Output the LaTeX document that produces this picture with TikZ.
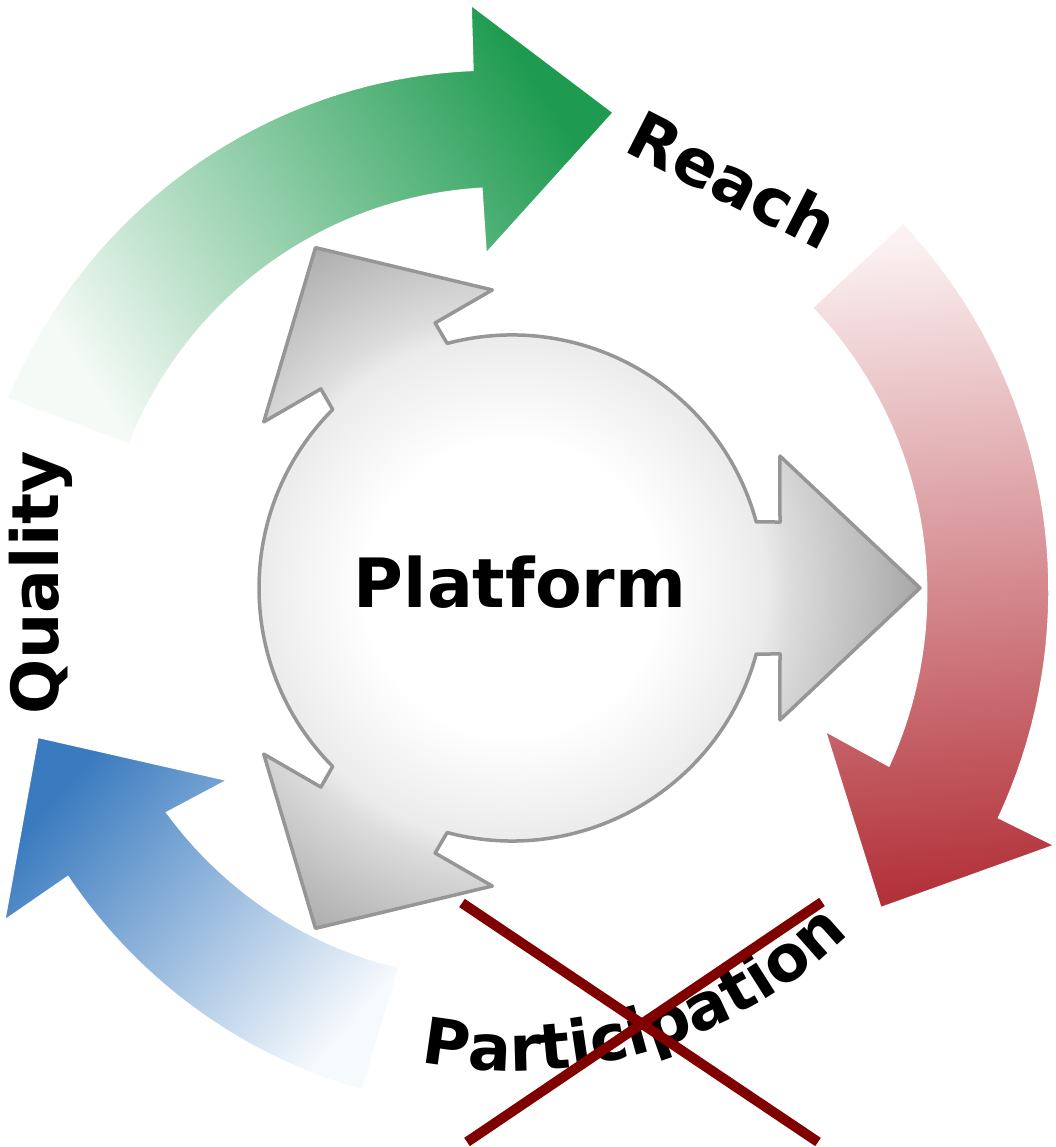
\documentclass[tikz,border=0pt]{standalone}
\usepackage{fontspec}
\setmainfont{DejaVu Sans}
\usetikzlibrary{decorations.text}
\definecolor{grnD}{HTML}{1E9B50}
\definecolor{grnM}{HTML}{7CC69B}
\definecolor{grnL}{HTML}{F4FAF6}
\definecolor{redD}{HTML}{B3323A}
\definecolor{redM}{HTML}{D98F96}
\definecolor{redL}{HTML}{FBF1F2}
\definecolor{bluD}{HTML}{3A7BBF}
\definecolor{bluM}{HTML}{98BEE2}
\definecolor{bluL}{HTML}{F7FAFD}
\definecolor{pltA}{HTML}{EBEBEB}
\definecolor{pltB}{HTML}{DCDCDC}
\definecolor{pltD}{HTML}{A6A6A6}
\definecolor{pltLine}{HTML}{969696}
\definecolor{xred}{HTML}{800000}
\pgfdeclareradialshading{platsh}{\pgfpoint{0bp}{0bp}}{color(0bp)=(white); color(9bp)=(white); color(15.5bp)=(pltA); color(17bp)=(pltB); color(25bp)=(pltD); color(50bp)=(pltD)}
\newcommand{\lbl}{\bfseries\fontsize{65}{70}\selectfont}
\newcommand{\platlbl}{\bfseries\fontsize{68}{72}\selectfont}
\newcommand{\partlbl}{\bfseries\fontsize{64}{68}\selectfont}
\newcommand{\platformoutline}{%
(-15.14:253) -- (-13.83:276) -- (-26.22:298.7) -- (0:408) -- (26.22:298.7) -- (13.83:276) -- (15.14:253)
arc[start angle=15.14, end angle=104.86, radius=253]
-- (106.17:276) -- (93.78:298.7) -- (120:393) -- (146.22:298.7) -- (133.83:276) -- (135.14:253)
arc[start angle=135.14, end angle=224.86, radius=253]
-- (226.17:276) -- (213.78:298.7) -- (240:393) -- (266.22:298.7) -- (253.83:276) -- (255.14:253)
arc[start angle=255.14, end angle=344.86, radius=253] -- cycle}
\tikzset{
  lblnode/.style={font=\lbl, inner sep=0pt},
  crossline/.style={draw=xred, line width=10pt},
  bentedge/.style={draw=white, line width=1.2pt},
  platline/.style={draw=pltLine, line width=3.5pt, line join=round}
}
\begin{document}
\begin{tikzpicture}[x=1pt,y=1pt]
\useasboundingbox (0,0) rectangle (1056,1147);
\coordinate (C) at (512,559);
\begin{scope}[shift={(C)}]
  % green arrow
  \path[bentedge, top color=grnD, middle color=grnM, bottom color=grnL, shading angle=-57]
    plot[domain=159.4:94.3, samples=40] (\x:{539-20*(159.4-\x)/65.1})
    -- (94:584) -- (78:486) -- (94.4:336)
    -- plot[domain=94.3:159.4, samples=40] (\x:{401+8*(\x-94.3)/65.1}) -- cycle;
  % red arrow
  \path[bentedge, top color=redL, middle color=redM, bottom color=redD, shading angle=5]
    plot[domain=43:-25.3, samples=40] (\x:{535+3*(43-\x)/68.3})
    -- (-25.4:600) -- (-40.9:488) -- (-24.6:345)
    -- plot[domain=-25.3:43, samples=40] (\x:{417-6*(\x+25.3)/68.3}) -- cycle;
  % blue arrow
  \path[bentedge, top color=bluD, middle color=bluM, bottom color=bluL, shading angle=49]
    plot[domain=253.4:213, samples=40] (\x:{524+5.5*(253.4-\x)/40.4})
    -- (213.2:606) -- (197.5:497) -- (214:344)
    -- plot[domain=213:253.4, samples=40] (\x:{412-16*(\x-213)/40.4}) -- cycle;
  % platform
  \begin{scope}
    \path[clip] \platformoutline;
    \shade[shading=platsh] (0,0) circle (410);
  \end{scope}
  \path[platline] \platformoutline;
  % participation label
  \path[decorate, decoration={text along path, text={|\partlbl|Participation}, text align=center}]
    (240:483) arc[start angle=240, end angle=333.4, radius=483];
\end{scope}
\node[lblnode, font=\platlbl, anchor=base] (platform) at (520,539) {Platform};
\node[lblnode, anchor=base, rotate=90] (quality) at (58,564) {Quality};
\node[lblnode, anchor=base, rotate=-27] (reach) at (722,946) {Reach};
\coordinate (xa1) at (462,244);
\coordinate (xa2) at (818,5);
\coordinate (xb1) at (822,245);
\coordinate (xb2) at (467,5);
\draw[crossline] (xa1) -- (xa2);
\draw[crossline] (xb1) -- (xb2);
\end{tikzpicture}
\end{document}
